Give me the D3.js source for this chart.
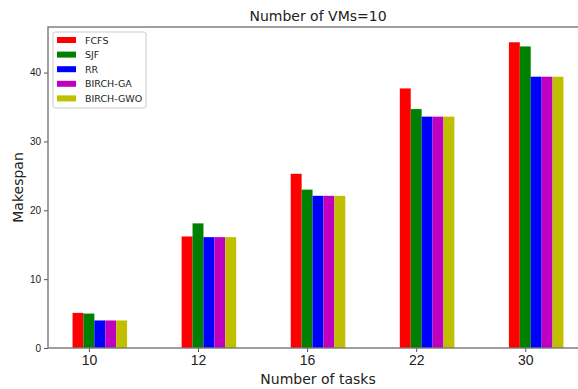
<!DOCTYPE html>
<html>
<head>
<meta charset="utf-8">
<script src="https://cdn.jsdelivr.net/npm/d3@7"></script>
<style>
  html, body { margin: 0; padding: 0; background: #fff; }
  svg { display: block; font-family: "DejaVu Sans", sans-serif; }
</style>
</head>
<body>
<svg id="chart" width="578" height="389"></svg>
<script>
// Makespan per scheduling algorithm, grouped by number of tasks (10 VMs)
const categories = ["10", "12", "16", "22", "30"];
const seriesNames = ["FCFS", "SJF", "RR", "BIRCH-GA", "BIRCH-GWO"];
const seriesColors = ["#ff0000", "#008000", "#0000ff", "#bf00bf", "#bfbf00"];
const fcfs = [5.1, 16.2, 25.3, 37.7, 44.4];
const sjf = [5.0, 18.1, 23.0, 34.7, 43.8];
const rr = [4.0, 16.1, 22.1, 33.6, 39.4];
const birchGa = [4.0, 16.1, 22.1, 33.6, 39.4];
const birchGwo = [4.0, 16.1, 22.1, 33.6, 39.4];
const yTicks = [0, 10, 20, 30, 40];

const series = [fcfs, sjf, rr, birchGa, birchGwo];

const svg = d3.select("#chart");
const plot = { left: 48, right: 588, top: 27, bottom: 348 };
const barWidth = 0.1;              // in category units
const offsets = [-1, 0, 1, 2, 3];  // bar offsets (x barWidth) around each tick

// Linear x in category index units, padded like a default autoscale
const xMin = -1.5 * barWidth, xMax = categories.length - 1 + 3.5 * barWidth;
const xPad = (xMax - xMin) * 0.05;
const x = d3.scaleLinear().domain([xMin - xPad, xMax + xPad]).range([plot.left, plot.right]);

const yMaxVal = d3.max(series.flat());
const y = d3.scaleLinear().domain([0, yMaxVal * 1.05]).range([plot.bottom, plot.top]);

// Bars
series.forEach((vals, si) => {
  svg.append("g")
    .selectAll("rect")
    .data(vals)
    .join("rect")
    .attr("x", (d, i) => x(i + offsets[si] * barWidth - barWidth / 2))
    .attr("width", x(barWidth) - x(0))
    .attr("y", d => y(d))
    .attr("height", d => y(0) - y(d))
    .attr("fill", seriesColors[si]);
});

// Axes
const xAxis = d3.axisBottom(x)
  .tickValues(d3.range(categories.length))
  .tickFormat(i => categories[i])
  .tickSize(4).tickPadding(3);
const gx = svg.append("g").attr("transform", `translate(0,${plot.bottom})`).call(xAxis);
gx.select(".domain").remove();
gx.selectAll("text").attr("font-size", 14).attr("fill", "#222");
gx.selectAll("line").attr("stroke", "#555");

const yAxis = d3.axisLeft(y).tickValues(yTicks).tickSize(4).tickPadding(3);
const gy = svg.append("g").attr("transform", `translate(${plot.left},0)`).call(yAxis);
gy.select(".domain").remove();
gy.selectAll("text").attr("font-size", 10).attr("fill", "#222");
gy.selectAll("line").attr("stroke", "#555");

// Frame
svg.append("rect")
  .attr("x", plot.left).attr("y", plot.top)
  .attr("width", plot.right - plot.left).attr("height", plot.bottom - plot.top)
  .attr("fill", "none").attr("stroke", "#777").attr("stroke-width", 1.4);

// Title and axis labels
svg.append("text").attr("x", 318).attr("y", 21).attr("text-anchor", "middle")
  .attr("font-size", 14).attr("fill", "#222").text("Number of VMs=10");
svg.append("text").attr("x", 318).attr("y", 384).attr("text-anchor", "middle")
  .attr("font-size", 14).attr("fill", "#222").text("Number of tasks");
svg.append("text").attr("transform", `translate(23,${(plot.top + plot.bottom) / 2}) rotate(-90)`)
  .attr("text-anchor", "middle").attr("font-size", 14).attr("fill", "#222").text("Makespan");

// Legend
const legend = svg.append("g").attr("transform", "translate(53,32)");
legend.append("rect").attr("width", 93).attr("height", 76).attr("rx", 2)
  .attr("fill", "#fff").attr("fill-opacity", 0.8).attr("stroke", "#ccc");
seriesNames.forEach((name, i) => {
  const row = legend.append("g").attr("transform", `translate(0,${8 + i * 14.6})`);
  row.append("rect").attr("x", 4).attr("y", -3).attr("width", 19).attr("height", 6)
    .attr("fill", seriesColors[i]);
  row.append("text").attr("x", 32).attr("y", 3.5).attr("font-size", 9.5)
    .attr("fill", "#222").text(name);
});
</script>
</body>
</html>
